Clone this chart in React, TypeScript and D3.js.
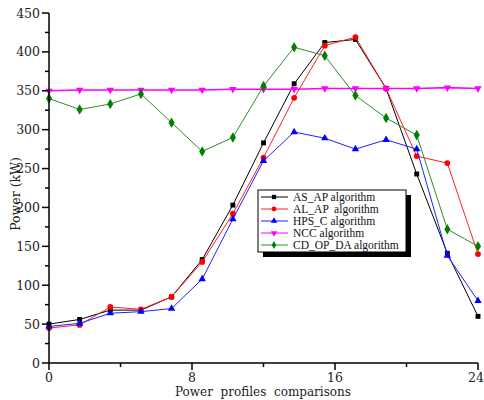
import React, { useEffect, useRef } from 'react'
import * as d3 from 'd3'

// 15 profiles spread evenly over the 0..24 axis
const profiles = d3.range(15).map(i => (i * 24) / 14)

const asAp = [50, 56, 68, 68, 85, 133, 203, 283, 359, 412, 416, 353, 243, 141, 60]
const alAp = [45, 49, 72, 69, 85, 130, 192, 264, 341, 408, 419, 353, 266, 257, 140]
const hpsC = [47, 51, 64, 66, 70, 108, 185, 260, 297, 289, 275, 287, 275, 138, 80]
const ncc = [350, 351, 351, 351, 351, 351, 352, 352, 352, 353, 353, 353, 353, 354, 353]
const cdOpDa = [340, 326, 333, 346, 309, 272, 290, 356, 406, 395, 344, 315, 293, 172, 150]

const seriesNames = ['AS_AP algorithm', 'AL_AP  algorithm', 'HPS_C algorithm', 'NCC algorithm', 'CD_OP_DA algorithm']
const seriesValues = [asAp, alAp, hpsC, ncc, cdOpDa]
const seriesColors = ['#000000', '#ff0000', '#0000ff', '#ff00ff', '#008000']
const lineColors = ['#000000', '#ff2020', '#2020ff', '#ff00ff', '#2e8b2e']
const symbols = [d3.symbolSquare, d3.symbolCircle, d3.symbolTriangle, d3.symbolTriangle, d3.symbolDiamond]

const xMajorTicks = [0, 8, 16, 24]
const xMinorTicks = [4, 12, 20]
const yMajorTicks = [0, 50, 100, 150, 200, 250, 300, 350, 400, 450]

const FONT = 'DejaVu Serif'

export default function App() {
  const ref = useRef<SVGSVGElement>(null)

  useEffect(() => {
    const svg = d3.select(ref.current)
    svg.selectAll('*').remove()

    const x = d3.scaleLinear().domain([0, 24]).range([49, 478])
    const y = d3.scaleLinear().domain([0, 450]).range([363, 13])

    const g = svg.append('g')

    // series lines + markers
    seriesValues.forEach((vals, s) => {
      const pts = vals.map((v, i) => [profiles[i], v] as [number, number])
      g.append('path')
        .datum(pts)
        .attr('fill', 'none')
        .attr('stroke', lineColors[s])
        .attr('stroke-width', s === 3 ? 1.6 : 1)
        .attr('d', d3.line().x(d => x(d[0])).y(d => y(d[1])))

      g.selectAll(`.m${s}`)
        .data(pts)
        .join('path')
        .attr('class', `m${s}`)
        .attr('transform', d => `translate(${x(d[0])},${y(d[1])})${s === 3 ? ' rotate(180)' : ''}`)
        .attr('d', d3.symbol(symbols[s], s === 4 ? 32 : s === 1 ? 26 : 24)())
        .attr('fill', seriesColors[s])
    })

    // axes
    const axis = svg.append('g').attr('stroke', '#000').attr('stroke-width', 1.5)
    axis.append('line').attr('x1', x(0)).attr('x2', x(0)).attr('y1', y(450)).attr('y2', y(0))
    axis.append('line').attr('x1', x(0)).attr('x2', x(24)).attr('y1', y(0)).attr('y2', y(0))

    yMajorTicks.forEach(t => {
      axis.append('line').attr('x1', x(0) - 7).attr('x2', x(0)).attr('y1', y(t)).attr('y2', y(t))
      if (t < 450) {
        axis.append('line').attr('x1', x(0) - 4).attr('x2', x(0)).attr('y1', y(t + 25)).attr('y2', y(t + 25))
      }
    })
    xMajorTicks.forEach(t => {
      axis.append('line').attr('x1', x(t)).attr('x2', x(t)).attr('y1', y(0)).attr('y2', y(0) + 7)
    })
    xMinorTicks.forEach(t => {
      axis.append('line').attr('x1', x(t)).attr('x2', x(t)).attr('y1', y(0)).attr('y2', y(0) + 4)
    })

    const labels = svg.append('g').attr('font-family', FONT).attr('font-size', 12.5).attr('fill', '#222')
    yMajorTicks.forEach(t => {
      labels.append('text').attr('x', 40).attr('y', y(t) + 4.5).attr('text-anchor', 'end').text(t)
    })
    xMajorTicks.forEach(t => {
      const last = t === 24
      labels.append('text')
        .attr('x', last ? 484 : x(t))
        .attr('y', 382)
        .attr('text-anchor', last ? 'end' : 'middle')
        .text(t)
    })

    labels.append('text')
      .attr('x', 263).attr('y', 396)
      .attr('text-anchor', 'middle')
      .attr('font-size', 12)
      .style('white-space', 'pre')
      .text('Power  profiles  comparisons')

    labels.append('text')
      .attr('transform', 'translate(20,194) rotate(-90)')
      .attr('text-anchor', 'middle')
      .attr('font-size', 12.5)
      .text('Power (kW)')

    // legend with drop shadow
    const lg = svg.append('g').attr('transform', 'translate(258,190)')
    lg.append('rect').attr('x', 5).attr('y', 5).attr('width', 148).attr('height', 62).attr('fill', '#000')
    lg.append('rect').attr('x', 0).attr('y', 0).attr('width', 148).attr('height', 62)
      .attr('fill', '#fff').attr('stroke', '#000').attr('stroke-width', 1)
    seriesNames.forEach((name, s) => {
      const ry = 7 + s * 12
      lg.append('line').attr('x1', 3).attr('x2', 30).attr('y1', ry).attr('y2', ry).attr('stroke', lineColors[s])
      lg.append('path')
        .attr('transform', `translate(16,${ry})${s === 3 ? ' rotate(180)' : ''}`)
        .attr('d', d3.symbol(symbols[s], 18)())
        .attr('fill', seriesColors[s])
      lg.append('text')
        .attr('x', 35).attr('y', ry + 4)
        .attr('font-family', 'Liberation Serif').attr('font-size', 11.5)
        .style('white-space', 'pre')
        .attr('fill', '#111')
        .text(name)
    })
  }, [])

  return (
    <svg ref={ref} width={484} height={400} style={{ position: 'absolute', left: 0, top: 0, background: '#fff' }} />
  )
}
